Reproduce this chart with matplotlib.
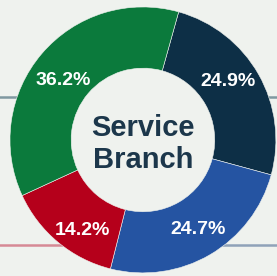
import numpy as np
import matplotlib.pyplot as plt
from matplotlib.lines import Line2D

branches = ["Branch A", "Branch B", "Branch C", "Branch D"]
shares = [24.9, 24.7, 14.2, 36.2]
colors = ["#0d2f46", "#2554a2", "#b5001b", "#0b7a3c"]

# small nudges of each percent label (degrees, radius) to match the layout
label_shift = [5.0, 1.3, 5.8, 3.8]
label_dist = [0.78, 0.79, 0.82, 0.75]

bg = "#eff2ee"

fig = plt.figure(figsize=(2.77, 2.76), dpi=100, facecolor=bg)

# decorative rules from the surrounding layout, drawn behind the donut
for x0, x1, y, c in [(0, 0.1, 0.649, "#7f98a0"), (0.9, 1, 0.649, "#7f98a0"),
                     (0, 0.25, 0.112, "#d68a95"), (0.75, 1, 0.112, "#8fa2b8")]:
    fig.add_artist(Line2D([x0, x1], [y, y], color=c, lw=1.8, zorder=-1))

ax = fig.add_axes([0.036, 0.011, 0.960, 0.964])
wedges, texts, autotexts = ax.pie(
    shares, colors=colors, startangle=74.4, counterclock=False,
    radius=1, wedgeprops=dict(width=0.46, edgecolor=bg, linewidth=0.4),
    autopct="%.1f%%",
    textprops=dict(color="white", fontsize=14, fontweight="bold",
                   family="Liberation Sans"))
for w, t, da, r in zip(wedges, autotexts, label_shift, label_dist):
    ang = np.deg2rad((w.theta1 + w.theta2) / 2 + da)
    t.set_position((r * np.cos(ang), r * np.sin(ang)))

ax.set_xlim(-1, 1)
ax.set_ylim(-1, 1)
ax.axis("off")

ax.text(0, -0.03, "Service\nBranch", ha="center", va="center", color="#1c374b",
        fontsize=21, fontweight="bold", family="Liberation Sans", linespacing=1.15)

fig.savefig("out.png", dpi=100, facecolor=bg)
